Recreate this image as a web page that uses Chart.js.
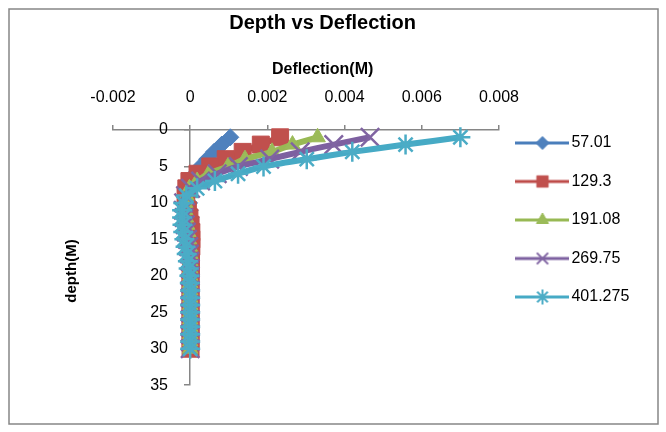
<!DOCTYPE html>
<html><head><meta charset="utf-8">
<script src="https://cdn.jsdelivr.net/npm/chart.js@4.4.1/dist/chart.umd.min.js"></script>
<style>html,body{margin:0;padding:0;background:#fff;}canvas{display:block;}</style>
</head><body>
<canvas id="c" width="666" height="432" style="width:666px;height:432px"></canvas>
<script>
// ---------- data ----------
const chartTitle = 'Depth vs Deflection';
const xTitle = 'Deflection(M)';
const yTitle = 'depth(M)';
const seriesNames = ['57.01', '129.3', '191.08', '269.75', '401.275'];
const depths = [1,2,3,4,5,6,7,8,9,10,11,12,13,14,15,16,17,18,19,20,21,22,23,24,25,26,27,28,29,30];
const defl57 = [0.00104,0.00082,0.00062,0.00044,0.00027,0.00013,0.00004,-0.00002,-0.00004,-0.00003,-0.00001,0.00001,0.00002,0.00002,0.00001,0.00001,0,0,0,0,0,0,0,0,0,0,0,0,0,0];
const defl129 = [0.00233,0.00183,0.00136,0.00092,0.00052,0.00019,-0.00002,-0.00010,-0.00012,-0.00010,-0.00006,-0.00002,0.00001,0.00003,0.00003,0.00003,0.00002,0.00002,0.00002,0.00001,0.00001,0.00001,0.00001,0.00001,0.00001,0.00001,0.00001,0.00001,0.00001,0.00001];
const defl191 = [0.00330,0.00265,0.00212,0.00142,0.00098,0.00048,0.00018,-0.00002,-0.00010,-0.00013,-0.00013,-0.00011,-0.00008,-0.00005,-0.00003,-0.00001,0,0,0,0,0,0,0,0,0,0,0,0,0,0];
const defl270 = [0.00466,0.00372,0.00285,0.00206,0.00125,0.00070,0.00027,0.00001,-0.00012,-0.00017,-0.00018,-0.00016,-0.00013,-0.00010,-0.00007,-0.00004,-0.00002,-0.00001,0,0,0,0,0,0,0,0,0,0,0,0];
const defl401 = [0.00700,0.00558,0.00420,0.00302,0.00190,0.00124,0.00064,0.00018,-0.00010,-0.00018,-0.00021,-0.00021,-0.00020,-0.00018,-0.00015,-0.00012,-0.00009,-0.00006,-0.00004,-0.00002,-0.00001,0,0,0,0,0,0,0,0,0];
const xTickValues = [-0.002, 0, 0.002, 0.004, 0.006, 0.008];
const xTickLabels = ['-0.002', '0', '0.002', '0.004', '0.006', '0.008'];
const yTickValues = [0, 5, 10, 15, 20, 25, 30, 35];
const yTickLabels = ['0', '5', '10', '15', '20', '25', '30', '35'];

// ---------- styles ----------
const FONT = "'Liberation Sans', Arial, sans-serif";
const lineColors = ['#4A7EBB', '#BE4B48', '#98B954', '#7D60A0', '#46AAC5'];
const markColors = ['#4F81BD', '#C0504D', '#9BBB59', '#8064A2', '#4BACC6'];
const markStyles = ['rectRot', 'rect', 'triangle', 'crossRot', 'star'];
const markRadius = [8.5, 12, 9, 13, 10];
const markBorder = [1, 1, 1, 2.5, 2.5];
const legRadius = [6.5, 8, 7, 8, 7.5];
const legBorder = [1, 1, 1, 2, 2];
const allSeries = [defl57, defl129, defl191, defl270, defl401];

function makeIcon(i) {
  const c = document.createElement('canvas');
  c.width = 54; c.height = 20;
  const g = c.getContext('2d');
  g.strokeStyle = lineColors[i]; g.lineWidth = 3;
  g.beginPath(); g.moveTo(0, 10); g.lineTo(54, 10); g.stroke();
  g.fillStyle = markColors[i]; g.strokeStyle = markColors[i]; g.lineWidth = legBorder[i];
  Chart.helpers.drawPoint(g, {pointStyle: markStyles[i], radius: legRadius[i], borderWidth: legBorder[i], rotation: 0}, 27, 10);
  return c;
}
const icons = seriesNames.map((_, i) => makeIcon(i));

const datasets = allSeries.map((vals, i) => ({
  label: seriesNames[i],
  data: vals.map((v, k) => ({x: v, y: depths[k]})),
  xAxisID: 'x',
  yAxisID: 'y',
  showLine: true,
  borderColor: lineColors[i],
  borderWidth: 6,
  tension: 0.25,
  pointStyle: markStyles[i],
  pointRadius: markRadius[i],
  pointBackgroundColor: markColors[i],
  pointBorderColor: markColors[i],
  pointBorderWidth: markBorder[i],
  order: 4 - i,
  clip: false
}));

const frame = {
  id: 'frame',
  beforeDraw(chart) {
    const c = chart.ctx; c.save(); c.fillStyle = '#fff'; c.fillRect(0, 0, chart.width, chart.height); c.restore();
  },
  afterDraw(chart) {
    const c = chart.ctx; c.save();
    c.strokeStyle = '#868686'; c.lineWidth = 1.5;
    c.strokeRect(9, 9, 649, 415);
    c.translate(72, 271); c.rotate(-Math.PI / 2);
    c.font = 'bold 15px ' + FONT; c.fillStyle = '#000'; c.textAlign = 'center'; c.textBaseline = 'middle';
    c.fillText(yTitle, 0, 0);
    c.restore();
  }
};

new Chart(document.getElementById('c'), {
  type: 'scatter',
  data: {datasets},
  plugins: [frame],
  options: {
    responsive: false, animation: false, devicePixelRatio: 1,
    layout: {padding: {left: 6, right: 26.7, top: 0, bottom: 42}},
    plugins: {
      title: {display: true, text: chartTitle, color: '#000', font: {family: FONT, size: 20, weight: 'bold'}, padding: {top: 11, bottom: 0}},
      subtitle: {display: true, text: xTitle, color: '#000', font: {family: FONT, size: 16, weight: 'bold'}, padding: {top: 25.4, bottom: 0}},
      legend: {
        position: 'right', align: 'start', maxWidth: 200,
        title: {display: true, text: ' ', font: {family: FONT, size: 16}, padding: {top: 93.3, bottom: 0}},
        labels: {
          usePointStyle: true, pointStyleWidth: 42, padding: 22.5, color: '#000',
          font: {family: FONT, size: 16},
          generateLabels(chart) {
            const items = Chart.defaults.plugins.legend.labels.generateLabels(chart);
            items.forEach(it => { it.pointStyle = icons[it.datasetIndex]; });
            return items;
          },
          sort: (a, b) => a.datasetIndex - b.datasetIndex
        }
      },
      tooltip: {enabled: false}
    },
    scales: {
      x: {
        type: 'linear', position: 'top', min: -0.002, max: 0.008,
        afterBuildTicks: s => { s.ticks = xTickValues.map(v => ({value: v})); },
        ticks: {callback: (v, i) => xTickLabels[i], padding: 18, color: '#000', font: {family: FONT, size: 16}, maxRotation: 0},
        grid: {drawOnChartArea: false, drawTicks: true, tickLength: 5, color: '#868686', lineWidth: 1.5},
        border: {display: true, color: '#868686', width: 1.5},
        afterFit: s => { s.height = 50.4; }
      },
      y: {
        type: 'linear', position: {x: 0}, reverse: true, min: 0, max: 35,
        afterBuildTicks: s => { s.ticks = yTickValues.map(v => ({value: v})); },
        ticks: {display: false},
        grid: {drawOnChartArea: false, drawTicks: true, tickLength: 5, color: '#868686', lineWidth: 1.5},
        border: {display: true, color: '#868686', width: 1.5}
      },
      yPad: {
        type: 'linear', position: 'left', display: true, reverse: true, min: 0, max: 35,
        afterBuildTicks: s => { s.ticks = yTickValues.map(v => ({value: v})); },
        ticks: {callback: (v, i) => yTickLabels[i], mirror: true, crossAlign: 'far', padding: 37.2, color: '#000', font: {family: FONT, size: 16}},
        grid: {display: false}, border: {display: false},
        afterFit: s => { s.width = 107; }
      }
    }
  }
});
</script>
</body></html>
